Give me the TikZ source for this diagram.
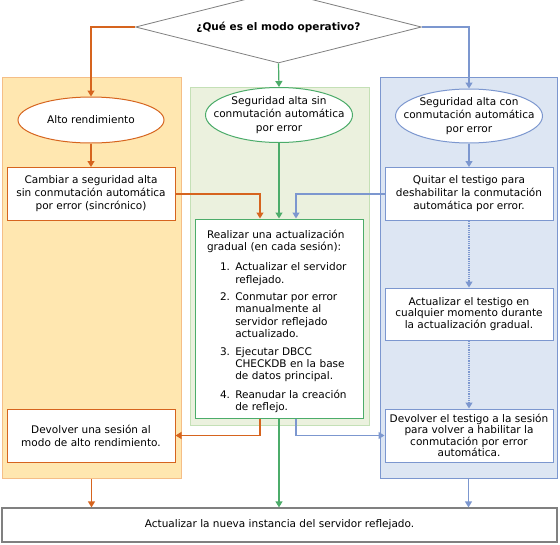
\documentclass[tikz,border=0pt]{standalone}
\usepackage{fontspec}
\setmainfont{DejaVu Sans}
\usetikzlibrary{shapes.geometric,arrows.meta}
\definecolor{naranja}{RGB}{214,100,30}
\definecolor{fondonaranja}{RGB}{255,231,176}
\definecolor{bordenaranja}{RGB}{245,190,135}
\definecolor{verde}{RGB}{76,172,106}
\definecolor{fondoverde}{RGB}{235,241,222}
\definecolor{bordeverde}{RGB}{196,224,182}
\definecolor{azul}{RGB}{124,151,207}
\definecolor{fondoazul}{RGB}{221,230,243}
\definecolor{gris}{RGB}{128,128,128}
\begin{document}
\begin{tikzpicture}[x=1pt,y=-1pt,font=\fontsize{10.5}{13}\selectfont,
  columna/.style={draw,line width=1pt,minimum width=179pt,minimum height=401pt,inner sep=0pt},
  caja/.style={draw,fill=white,line width=1pt,align=center,minimum width=168pt,minimum height=53pt,inner sep=0pt},
  elipse/.style={ellipse,draw,fill=white,line width=1pt,align=center,minimum width=147pt,minimum height=55pt,inner xsep=-14pt,inner ysep=0pt,font=\fontsize{10.5}{13.3}\selectfont},
  flecha/.style={line width=1.2pt,-{Triangle[width=7pt,length=6pt]}}]
\useasboundingbox (0,0) rectangle (560,544);
\node[columna,fill=fondonaranja,draw=bordenaranja] (colA) at (91.5,277.5) {};
\node[columna,fill=fondoverde,draw=bordeverde,minimum height=338pt] (colB) at (279.5,256) {};
\node[columna,fill=fondoazul,draw=azul,minimum width=177pt] (colC) at (468.5,277.5) {};
\node[diamond,draw=gris,fill=white,line width=0.8pt,aspect=4,minimum width=286pt,minimum height=72pt,inner sep=0pt,font=\fontsize{10.5}{13}\selectfont\bfseries] (pregunta) at (278.5,27) {¿Qué es el modo operativo?};
\node[elipse,draw=naranja,minimum width=146pt,minimum height=46pt] (alto) at (91,120) {Alto rendimiento};
\node[elipse,draw=verde] (sinauto) at (279,115) {Seguridad alta sin\\conmutación automática\\por error};
\node[elipse,draw=azul,minimum height=54pt] (conauto) at (469,116) {Seguridad alta con\\conmutación automática\\por error};
\node[caja,draw=naranja] (cambiar) at (91,194) {Cambiar a seguridad alta\\sin conmutación automática\\por error (sincrónico)};
\node[caja,draw=azul] (quitar) at (469,194) {Quitar el testigo para\\deshabilitar la conmutación\\automática por error.};
\node[caja,draw=azul,minimum height=52pt,font=\fontsize{10.5}{11.5}\selectfont] (testigo) at (469,314) {Actualizar el testigo en\\cualquier momento durante\\la actualización gradual.};
\node[caja,draw=azul,font=\fontsize{10.5}{11.5}\selectfont] (devolverB) at (469,435.5) {Devolver el testigo a la sesión\\para volver a habilitar la\\conmutación por error\\automática.};
\node[caja,draw=naranja] (devolverA) at (91,435.5) {Devolver una sesión al\\modo de alto rendimiento.};
\node[caja,draw=verde,minimum height=199pt,text width=144pt,align=left,font=\fontsize{10.5}{11.5}\selectfont] (gradual) at (279,318.5) {\rule{0pt}{16pt}Realizar una actualización\\gradual (en cada sesión):\\[9pt]
\hspace*{13pt}\fontsize{10.5}{12.4}\selectfont\begin{tabular}[t]{@{}r@{ }l@{}}
1. & Actualizar el servidor\\ & reflejado.\\[5pt]
2. & Conmutar por error\\ & manualmente al\\ & servidor reflejado\\ & actualizado.\\[5pt]
3. & Ejecutar DBCC\\ & CHECKDB en la base\\ & de datos principal.\\[6pt]
4. & Reanudar la creación\\ & de reflejo.
\end{tabular}};
\node[caja,draw=gris,line width=1.2pt,minimum width=555pt,minimum height=34pt] (final) at (279.5,525) {Actualizar la nueva instancia del servidor reflejado.};
\draw[flecha,naranja] (pregunta.west) -| (alto.north);
\draw[flecha,verde] (pregunta.south) -- (sinauto.north);
\draw[flecha,azul] (pregunta.east) -| (conauto.north);
\draw[flecha,naranja] (alto.south) -- (cambiar.north);
\draw[flecha,verde] (sinauto.south) -- (sinauto.south |- gradual.north);
\draw[flecha,azul] (conauto.south) -- (quitar.north);
\draw[flecha,naranja] (cambiar.east) -| ([xshift=-19pt]gradual.north);
\draw[flecha,azul] (quitar.west) -| ([xshift=17pt]gradual.north);
\draw[flecha,azul,densely dotted] (quitar.south) -- (testigo.north);
\draw[flecha,azul,densely dotted] (testigo.south) -- (devolverB.north);
\draw[flecha,naranja] ([xshift=-19pt]gradual.south) |- (devolverA.east);
\draw[flecha,azul] ([xshift=17pt]gradual.south) |- (devolverB.west);
\draw[flecha,naranja] (colA.south) -- (colA.south |- final.north);
\draw[flecha,verde] (gradual.south) -- (gradual.south |- final.north);
\draw[flecha,azul] (colC.south) -- (colC.south |- final.north);
\end{tikzpicture}
\end{document}
